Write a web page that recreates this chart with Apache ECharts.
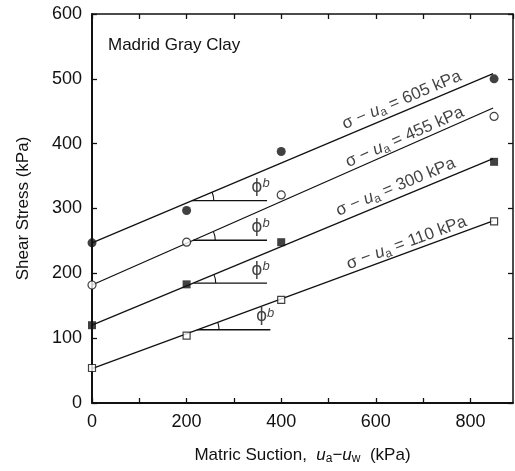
<!DOCTYPE html>
<html>
<head>
<meta charset="utf-8">
<script src="https://cdn.jsdelivr.net/npm/echarts@6/dist/echarts.min.js"></script>
<style>
  html, body { margin: 0; padding: 0; background: #fff; }
  #main { width: 515px; height: 471px; }
</style>
</head>
<body>
<div id="main"></div>
<script>
// test points (matric suction, shear stress) for each net normal stress
var suction = [0, 200, 400, 850];
var stress605 = [247, 297, 388, 500];
var stress455 = [182, 248, 321, 442];
var stress300 = [120, 183, 248, 372];
var stress110 = [54, 104, 159, 280];

// fitted lines, from suction 0 to the end of the line
var lineX = [0, 848];
var line605 = [247, 508];
var line455 = [182, 455];
var line300 = [120, 377];
var line110 = [53, 281];

var lineNames = ['605', '455', '300', '110'];
var lineLabelX = [655, 661, 642, 665];
var lineLabelY = [467, 410, 333, 247];

// phi-b angle markers: level, start and end of the horizontal leg
var angleY = [312, 251, 185, 113];
var angleX0 = [211, 214, 215, 222];
var angleX1 = [370, 370, 370, 377];
var phiX = [356, 356, 356, 366];
var phiY = [333, 271, 205, 133];

var xTicks = [0, 200, 400, 600, 800];

var font = 'Liberation Sans, Arial, Helvetica, sans-serif';
var ink = '#111';
var allLines = [line605, line455, line300, line110];

function pairs(xs, ys) {
    var out = [];
    for (var i = 0; i < xs.length; i++) out.push([xs[i], ys[i]]);
    return out;
}

function slopeDeg(l) {
    // slope in pixels: 389px per 600 kPa vertical, 421px per 890 kPa horizontal
    var s = (l[1] - l[0]) / (lineX[1] - lineX[0]) * (389 / 600) / (421 / 890);
    return Math.atan(s) * 180 / Math.PI;
}

var lineTextData = [];
for (var i = 0; i < lineNames.length; i++) {
    lineTextData.push({
        value: [lineLabelX[i], lineLabelY[i]],
        label: {
            rotate: slopeDeg(allLines[i]),
            formatter: '{t|σ − }{u|u}{s|a}{t| = ' + lineNames[i] + ' kPa}'
        }
    });
}

var angleData = [];
for (var i = 0; i < angleY.length; i++) {
    angleData.push([angleX0[i], angleY[i], angleX1[i], i]);
}

var richSub = {
    t: { fontSize: 17, fontFamily: font, color: ink, lineHeight: 20 },
    u: { fontSize: 17, fontFamily: font, color: ink, fontStyle: 'italic', lineHeight: 20 },
    s: { fontSize: 12, fontFamily: font, color: ink, lineHeight: 12, verticalAlign: 'bottom' }
};

var myChart = echarts.init(document.getElementById('main'));
var option = {
    backgroundColor: '#fff',
    animation: false,
    title: {
        text: 'Madrid Gray Clay',
        left: 103, top: 32,
        textStyle: { fontSize: 17, fontWeight: 'normal', fontFamily: font, color: ink }
    },
    grid: { left: 92, top: 14, right: 2, bottom: 68 },
    xAxis: [{
        type: 'value', min: 0, max: 890, interval: 100,
        position: 'bottom',
        axisLine: { onZero: false, lineStyle: { color: ink, width: 1.8 } },
        axisTick: { inside: true, length: 5, lineStyle: { color: ink, width: 1.3 } },
        axisLabel: {
            margin: 10, fontSize: 18, fontFamily: font, color: ink,
            showMaxLabel: false,
            formatter: function(v) { return xTicks.indexOf(v) >= 0 ? v : ''; }
        },
        splitLine: { show: false },
        name: '{t|Matric Suction,  }{u|u}{s|a}{t|−}{u|u}{s|w}{t|  (kPa)}',
        nameLocation: 'middle', nameGap: 42,
        nameTextStyle: { rich: richSub }
    }, {
        type: 'value', min: 0, max: 890, interval: 100,
        position: 'top',
        axisLine: { onZero: false, lineStyle: { color: ink, width: 1.5 } },
        axisTick: { inside: true, length: 5, lineStyle: { color: ink, width: 1.3 } },
        axisLabel: { show: false },
        splitLine: { show: false }
    }],
    yAxis: [{
        type: 'value', min: 0, max: 600, interval: 100,
        position: 'left',
        axisLine: { onZero: false, lineStyle: { color: ink, width: 2 } },
        axisTick: { inside: true, length: 5, lineStyle: { color: ink, width: 1.3 } },
        axisLabel: { margin: 10, fontSize: 18, fontFamily: font, color: ink },
        splitLine: { show: false },
        name: 'Shear Stress (kPa)',
        nameLocation: 'middle', nameGap: 60,
        nameTextStyle: { fontSize: 17, fontFamily: font, color: ink }
    }, {
        type: 'value', min: 0, max: 600, interval: 100,
        position: 'right',
        axisLine: { onZero: false, lineStyle: { color: ink, width: 1.5 } },
        axisTick: { inside: true, length: 5, lineStyle: { color: ink, width: 1.3 } },
        axisLabel: { show: false },
        splitLine: { show: false }
    }],
    series: [
        { type: 'line', data: pairs(lineX, line605), symbol: 'none', lineStyle: { color: ink, width: 1.3 } },
        { type: 'line', data: pairs(lineX, line455), symbol: 'none', lineStyle: { color: ink, width: 1.3 } },
        { type: 'line', data: pairs(lineX, line300), symbol: 'none', lineStyle: { color: ink, width: 1.3 } },
        { type: 'line', data: pairs(lineX, line110), symbol: 'none', lineStyle: { color: ink, width: 1.3 } },
        { type: 'scatter', data: pairs(suction, stress605), symbol: 'circle', symbolSize: 9,
          itemStyle: { color: ink }, z: 5 },
        { type: 'scatter', data: pairs(suction, stress455), symbol: 'circle', symbolSize: 8,
          itemStyle: { color: '#fff', borderColor: ink, borderWidth: 1.2 }, z: 5 },
        { type: 'scatter', data: pairs(suction, stress300), symbol: 'rect', symbolSize: 8,
          itemStyle: { color: ink }, z: 5 },
        { type: 'scatter', data: pairs(suction, stress110), symbol: 'rect', symbolSize: 7,
          itemStyle: { color: '#fff', borderColor: ink, borderWidth: 1.2 }, z: 5 },
        {
            type: 'custom',
            data: angleData,
            renderItem: function(params, api) {
                var x0 = api.value(0), y = api.value(1), x1 = api.value(2), li = api.value(3);
                var p0 = api.coord([x0, y]);
                var p1 = api.coord([x1, y]);
                var l = allLines[li];
                var a = api.coord([lineX[0], l[0]]);
                var b = api.coord([lineX[1], l[1]]);
                var ang = Math.atan2(b[1] - a[1], b[0] - a[0]);
                return {
                    type: 'group',
                    children: [{
                        type: 'line',
                        shape: { x1: p0[0], y1: p0[1], x2: p1[0], y2: p1[1] },
                        style: { stroke: ink, lineWidth: 1.3 }
                    }, {
                        type: 'arc',
                        shape: { cx: p0[0], cy: p0[1], r: 22, startAngle: ang, endAngle: 0 },
                        style: { stroke: ink, fill: null, lineWidth: 1.1 }
                    }]
                };
            }
        },
        {
            type: 'scatter', symbolSize: 0, silent: true,
            data: pairs(phiX, phiY),
            label: {
                show: true, position: 'inside',
                formatter: '{p|ϕ}{b|b}',
                rich: {
                    p: { fontSize: 17, fontFamily: 'DejaVu Sans, sans-serif', color: ink, lineHeight: 20 },
                    b: { fontSize: 13, fontFamily: font, fontStyle: 'italic', color: ink, lineHeight: 13, verticalAlign: 'top' }
                }
            }
        },
        {
            type: 'scatter', symbolSize: 0, silent: true,
            data: lineTextData,
            label: { show: true, position: 'inside', rich: richSub }
        }
    ]
};
myChart.setOption(option);
</script>
</body>
</html>
